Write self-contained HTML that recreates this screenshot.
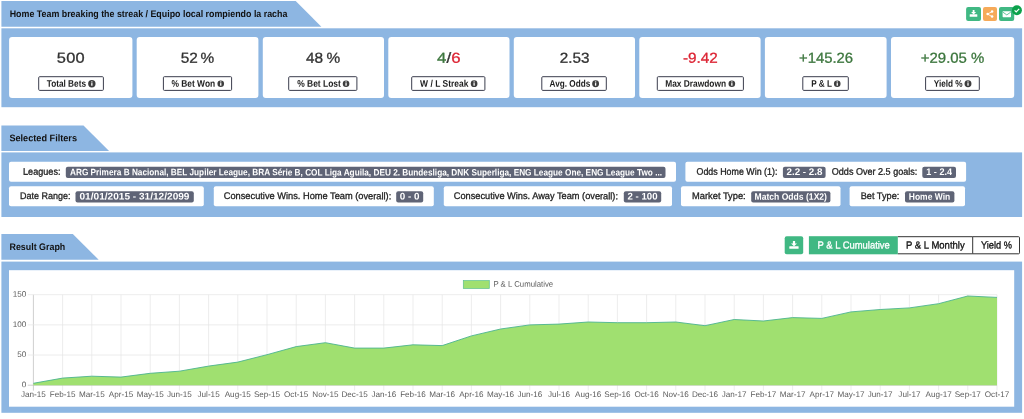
<!DOCTYPE html>
<html lang="en"><head><meta charset="utf-8"><title>Home Team breaking the streak</title>
<style>
html,body{margin:0;padding:0;background:#fff;}
body{width:1024px;height:419px;position:relative;overflow:hidden;font-family:"Liberation Sans",sans-serif;text-rendering:geometricPrecision;}
#bg{position:absolute;left:0;top:0;}
.t{position:absolute;white-space:nowrap;line-height:16px;height:16px;transform-origin:0 50%;}
svg text{font-family:"Liberation Sans",sans-serif;}
</style></head><body>

<svg id="bg" width="1024" height="419" viewBox="0 0 1024 419">
<polygon fill="#8db6e2" points="1.4,1.0 295.7,1.0 321.4,26.7 1.4,26.7"/>
<rect x="1.40" y="28.30" width="1020.70" height="78.90" rx="0" fill="#8db6e2" />
<rect x="9.10" y="37.00" width="123.30" height="61.10" rx="3" fill="#fff" />
<rect x="136.70" y="37.00" width="121.70" height="61.10" rx="3" fill="#fff" />
<rect x="262.80" y="37.00" width="121.20" height="61.10" rx="3" fill="#fff" />
<rect x="388.30" y="37.00" width="121.20" height="61.10" rx="3" fill="#fff" />
<rect x="513.80" y="37.00" width="121.20" height="61.10" rx="3" fill="#fff" />
<rect x="639.30" y="37.00" width="121.30" height="61.10" rx="3" fill="#fff" />
<rect x="764.90" y="37.00" width="121.70" height="61.10" rx="3" fill="#fff" />
<rect x="891.00" y="37.00" width="123.20" height="61.10" rx="3" fill="#fff" />
<rect x="38.70" y="76.70" width="64.70" height="13.70" rx="1" fill="#fff" stroke="#3b3d4d" stroke-width="1"/>
<circle cx="91.85" cy="83.70" r="3.70" fill="#3d3d3d"/>
<rect x="91.20" y="83.10" width="1.3" height="2.6" fill="#fff"/><rect x="91.20" y="81.40" width="1.3" height="1.1" fill="#fff"/>
<rect x="163.40" y="76.70" width="68.20" height="13.70" rx="1" fill="#fff" stroke="#3b3d4d" stroke-width="1"/>
<circle cx="220.75" cy="83.70" r="3.30" fill="#3d3d3d"/>
<rect x="220.10" y="83.10" width="1.3" height="2.6" fill="#fff"/><rect x="220.10" y="81.40" width="1.3" height="1.1" fill="#fff"/>
<rect x="288.70" y="76.70" width="68.20" height="13.70" rx="1" fill="#fff" stroke="#3b3d4d" stroke-width="1"/>
<circle cx="346.05" cy="83.70" r="3.30" fill="#3d3d3d"/>
<rect x="345.40" y="83.10" width="1.3" height="2.6" fill="#fff"/><rect x="345.40" y="81.40" width="1.3" height="1.1" fill="#fff"/>
<rect x="411.70" y="76.70" width="73.20" height="13.70" rx="1" fill="#fff" stroke="#3b3d4d" stroke-width="1"/>
<circle cx="474.10" cy="83.70" r="3.35" fill="#3d3d3d"/>
<rect x="473.45" y="83.10" width="1.3" height="2.6" fill="#fff"/><rect x="473.45" y="81.40" width="1.3" height="1.1" fill="#fff"/>
<rect x="541.80" y="76.70" width="64.50" height="13.70" rx="1" fill="#fff" stroke="#3b3d4d" stroke-width="1"/>
<circle cx="595.60" cy="83.70" r="3.45" fill="#3d3d3d"/>
<rect x="594.95" y="83.10" width="1.3" height="2.6" fill="#fff"/><rect x="594.95" y="81.40" width="1.3" height="1.1" fill="#fff"/>
<rect x="657.30" y="76.70" width="86.10" height="13.70" rx="1" fill="#fff" stroke="#3b3d4d" stroke-width="1"/>
<circle cx="731.85" cy="83.70" r="3.30" fill="#3d3d3d"/>
<rect x="731.20" y="83.10" width="1.3" height="2.6" fill="#fff"/><rect x="731.20" y="81.40" width="1.3" height="1.1" fill="#fff"/>
<rect x="802.80" y="76.70" width="45.50" height="13.70" rx="1" fill="#fff" stroke="#3b3d4d" stroke-width="1"/>
<circle cx="837.25" cy="83.70" r="3.30" fill="#3d3d3d"/>
<rect x="836.60" y="83.10" width="1.3" height="2.6" fill="#fff"/><rect x="836.60" y="81.40" width="1.3" height="1.1" fill="#fff"/>
<rect x="925.60" y="76.70" width="53.70" height="13.70" rx="1" fill="#fff" stroke="#3b3d4d" stroke-width="1"/>
<circle cx="968.00" cy="83.70" r="3.45" fill="#3d3d3d"/>
<rect x="967.35" y="83.10" width="1.3" height="2.6" fill="#fff"/><rect x="967.35" y="81.40" width="1.3" height="1.1" fill="#fff"/>
<rect x="966.10" y="7.00" width="14.90" height="14.00" rx="2" fill="#40b883" />
<rect x="983.00" y="7.00" width="14.00" height="14.00" rx="2" fill="#f6aa59" />
<rect x="999.00" y="7.00" width="15.20" height="14.00" rx="2" fill="#40b883" />
<path d="M972.7 9.9h1.8v2.0h1.6l-2.5 2.5-2.5-2.5h1.6z" fill="#fff"/><rect x="969.7" y="14.2" width="7.6" height="2.6" rx="0.4" fill="#fff"/>
<g fill="#fff" stroke="#fff"><circle cx="987.6" cy="14.1" r="1.25" stroke="none"/><circle cx="992.1" cy="11.6" r="1.25" stroke="none"/><circle cx="992.1" cy="16.6" r="1.25" stroke="none"/><path d="M987.6 14.1L992.1 11.6M987.6 14.1L992.1 16.6" stroke-width="0.8" fill="none"/></g>
<rect x="1002.6" y="11.2" width="8.4" height="6.0" rx="0.6" fill="#fff"/><path d="M1002.8 12.1l4.0 2.8 4.0-2.8" stroke="#40b883" stroke-width="0.8" fill="none"/>
<circle cx="1016.9" cy="10.3" r="5" fill="#0ba24b"/><path d="M1014.6 10.4l1.6 1.6 3-3.2" stroke="#fff" stroke-width="1.2" fill="none"/>
<polygon fill="#8db6e2" points="1.4,125.4 83.5,125.4 109.1,151.0 1.4,151.0"/>
<rect x="1.40" y="152.40" width="1020.70" height="64.60" rx="0" fill="#8db6e2" />
<rect x="9.00" y="161.80" width="667.00" height="20.00" rx="2" fill="#fff" />
<rect x="685.40" y="161.80" width="280.70" height="20.00" rx="2" fill="#fff" />
<rect x="9.00" y="186.20" width="194.80" height="20.10" rx="2" fill="#fff" />
<rect x="213.80" y="186.20" width="220.00" height="20.10" rx="2" fill="#fff" />
<rect x="443.80" y="186.20" width="228.20" height="20.10" rx="2" fill="#fff" />
<rect x="681.00" y="186.20" width="159.50" height="20.10" rx="2" fill="#fff" />
<rect x="849.60" y="186.20" width="115.40" height="20.10" rx="2" fill="#fff" />
<rect x="65.80" y="166.80" width="599.70" height="11.10" rx="2" fill="#5f6476" />
<rect x="782.90" y="166.80" width="42.70" height="11.10" rx="2" fill="#5f6476" />
<rect x="922.30" y="166.80" width="33.70" height="11.10" rx="2" fill="#5f6476" />
<rect x="75.50" y="191.20" width="118.30" height="11.30" rx="2" fill="#5f6476" />
<rect x="396.20" y="191.20" width="27.00" height="11.30" rx="2" fill="#5f6476" />
<rect x="623.80" y="191.20" width="37.40" height="11.30" rx="2" fill="#5f6476" />
<rect x="751.20" y="191.20" width="79.20" height="11.30" rx="2" fill="#5f6476" />
<rect x="905.00" y="191.20" width="49.40" height="11.30" rx="2" fill="#5f6476" />
<polygon fill="#8db6e2" points="1.4,233.9 72.8,233.9 98.7,259.8 1.4,259.8"/>
<rect x="1.40" y="261.60" width="1020.70" height="151.20" rx="0" fill="#8db6e2" />
<rect x="9.00" y="270.20" width="1005.20" height="136.50" rx="0" fill="#fff" />
<rect x="784.70" y="236.20" width="18.50" height="18.10" rx="2" fill="#40b883" />
<path d="M792.9 241.0h2.2v2.4h1.9l-3.0 2.9-3.0-2.9h1.9z" fill="#fff"/><rect x="789.3" y="246.2" width="9.3" height="2.5" rx="0.5" fill="#fff"/>
<rect x="808.9" y="236.2" width="89" height="18.1" fill="#40b883"/>
<rect x="897.9" y="236.2" width="74.8" height="18.1" fill="#fff"/><path d="M897.9 236.7H972.7M897.9 253.8H972.7" stroke="#333" stroke-width="1" fill="none"/>
<path d="M972.7 236.7H1018.5a1 1 0 0 1 1 1V252.8a1 1 0 0 1 -1 1H972.7z" fill="#fff" stroke="#333" stroke-width="1"/>
<line x1="33.40" y1="294.7" x2="33.40" y2="390.6" stroke="#bdbdbd" stroke-width="0.75"/>
<line x1="62.60" y1="294.7" x2="62.60" y2="390.6" stroke="#e7e7e7" stroke-width="0.75"/>
<line x1="91.80" y1="294.7" x2="91.80" y2="390.6" stroke="#e7e7e7" stroke-width="0.75"/>
<line x1="121.00" y1="294.7" x2="121.00" y2="390.6" stroke="#e7e7e7" stroke-width="0.75"/>
<line x1="150.20" y1="294.7" x2="150.20" y2="390.6" stroke="#e7e7e7" stroke-width="0.75"/>
<line x1="179.40" y1="294.7" x2="179.40" y2="390.6" stroke="#e7e7e7" stroke-width="0.75"/>
<line x1="208.60" y1="294.7" x2="208.60" y2="390.6" stroke="#e7e7e7" stroke-width="0.75"/>
<line x1="237.80" y1="294.7" x2="237.80" y2="390.6" stroke="#e7e7e7" stroke-width="0.75"/>
<line x1="267.00" y1="294.7" x2="267.00" y2="390.6" stroke="#e7e7e7" stroke-width="0.75"/>
<line x1="296.20" y1="294.7" x2="296.20" y2="390.6" stroke="#e7e7e7" stroke-width="0.75"/>
<line x1="325.40" y1="294.7" x2="325.40" y2="390.6" stroke="#e7e7e7" stroke-width="0.75"/>
<line x1="354.60" y1="294.7" x2="354.60" y2="390.6" stroke="#e7e7e7" stroke-width="0.75"/>
<line x1="383.80" y1="294.7" x2="383.80" y2="390.6" stroke="#e7e7e7" stroke-width="0.75"/>
<line x1="413.00" y1="294.7" x2="413.00" y2="390.6" stroke="#e7e7e7" stroke-width="0.75"/>
<line x1="442.20" y1="294.7" x2="442.20" y2="390.6" stroke="#e7e7e7" stroke-width="0.75"/>
<line x1="471.40" y1="294.7" x2="471.40" y2="390.6" stroke="#e7e7e7" stroke-width="0.75"/>
<line x1="500.60" y1="294.7" x2="500.60" y2="390.6" stroke="#e7e7e7" stroke-width="0.75"/>
<line x1="529.80" y1="294.7" x2="529.80" y2="390.6" stroke="#e7e7e7" stroke-width="0.75"/>
<line x1="559.00" y1="294.7" x2="559.00" y2="390.6" stroke="#e7e7e7" stroke-width="0.75"/>
<line x1="588.20" y1="294.7" x2="588.20" y2="390.6" stroke="#e7e7e7" stroke-width="0.75"/>
<line x1="617.40" y1="294.7" x2="617.40" y2="390.6" stroke="#e7e7e7" stroke-width="0.75"/>
<line x1="646.60" y1="294.7" x2="646.60" y2="390.6" stroke="#e7e7e7" stroke-width="0.75"/>
<line x1="675.80" y1="294.7" x2="675.80" y2="390.6" stroke="#e7e7e7" stroke-width="0.75"/>
<line x1="705.00" y1="294.7" x2="705.00" y2="390.6" stroke="#e7e7e7" stroke-width="0.75"/>
<line x1="734.20" y1="294.7" x2="734.20" y2="390.6" stroke="#e7e7e7" stroke-width="0.75"/>
<line x1="763.40" y1="294.7" x2="763.40" y2="390.6" stroke="#e7e7e7" stroke-width="0.75"/>
<line x1="792.60" y1="294.7" x2="792.60" y2="390.6" stroke="#e7e7e7" stroke-width="0.75"/>
<line x1="821.80" y1="294.7" x2="821.80" y2="390.6" stroke="#e7e7e7" stroke-width="0.75"/>
<line x1="851.00" y1="294.7" x2="851.00" y2="390.6" stroke="#e7e7e7" stroke-width="0.75"/>
<line x1="880.20" y1="294.7" x2="880.20" y2="390.6" stroke="#e7e7e7" stroke-width="0.75"/>
<line x1="909.40" y1="294.7" x2="909.40" y2="390.6" stroke="#e7e7e7" stroke-width="0.75"/>
<line x1="938.60" y1="294.7" x2="938.60" y2="390.6" stroke="#e7e7e7" stroke-width="0.75"/>
<line x1="967.80" y1="294.7" x2="967.80" y2="390.6" stroke="#e7e7e7" stroke-width="0.75"/>
<line x1="997.00" y1="294.7" x2="997.00" y2="390.6" stroke="#e7e7e7" stroke-width="0.75"/>
<line x1="27.8" y1="385.20" x2="997.0" y2="385.20" stroke="#bdbdbd" stroke-width="0.75"/>
<line x1="27.8" y1="355.03" x2="997.0" y2="355.03" stroke="#e7e7e7" stroke-width="0.75"/>
<line x1="27.8" y1="324.87" x2="997.0" y2="324.87" stroke="#e7e7e7" stroke-width="0.75"/>
<line x1="27.8" y1="294.70" x2="997.0" y2="294.70" stroke="#e7e7e7" stroke-width="0.75"/>
<polygon points="33.4,385.2 33.4,383.3 62.6,378.1 91.8,376.2 121.0,377.1 150.2,373.3 179.4,371.2 208.6,366.1 237.8,362.1 267.0,354.7 296.2,346.6 325.4,342.7 354.6,348.1 383.8,348.1 413.0,344.8 442.2,345.6 471.4,335.9 500.6,329.0 529.8,324.9 559.0,324.1 588.2,322.0 617.4,322.7 646.6,322.7 675.8,322.0 705.0,325.7 734.2,319.5 763.4,321.0 792.6,317.6 821.8,318.4 851.0,311.9 880.2,309.5 909.4,307.9 938.6,303.7 967.8,296.0 997.0,297.4 997.0,385.2" fill="#a0e070"/>
<polyline points="33.4,383.3 62.6,378.1 91.8,376.2 121.0,377.1 150.2,373.3 179.4,371.2 208.6,366.1 237.8,362.1 267.0,354.7 296.2,346.6 325.4,342.7 354.6,348.1 383.8,348.1 413.0,344.8 442.2,345.6 471.4,335.9 500.6,329.0 529.8,324.9 559.0,324.1 588.2,322.0 617.4,322.7 646.6,322.7 675.8,322.0 705.0,325.7 734.2,319.5 763.4,321.0 792.6,317.6 821.8,318.4 851.0,311.9 880.2,309.5 909.4,307.9 938.6,303.7 967.8,296.0 997.0,297.4" fill="none" stroke="#4bb38f" stroke-width="0.9"/>
<rect x="463.3" y="280.6" width="26" height="7.9" fill="#a0e070" stroke="#5cc08f" stroke-width="0.7"/>
<text x="493.4" y="286.7" font-size="8.2" fill="#5c5c5c" textLength="59.8" lengthAdjust="spacingAndGlyphs" transform="rotate(0.03 493.4 286.7)">P &amp; L Cumulative</text>
<text x="26.2" y="387.3" font-size="8.15" fill="#5c5c5c" text-anchor="end" transform="rotate(0.03 26.2 387.3)">0</text>
<text x="26.2" y="357.1" font-size="8.15" fill="#5c5c5c" text-anchor="end" transform="rotate(0.03 26.2 357.1)">50</text>
<text x="26.2" y="327.0" font-size="8.15" fill="#5c5c5c" text-anchor="end" transform="rotate(0.03 26.2 327.0)">100</text>
<text x="26.2" y="296.8" font-size="8.15" fill="#5c5c5c" text-anchor="end" transform="rotate(0.03 26.2 296.8)">150</text>
<text x="33.4" y="397.1" font-size="8.15" fill="#5c5c5c" text-anchor="middle" transform="rotate(0.03 33.4 397.1)">Jan-15</text>
<text x="62.6" y="397.1" font-size="8.15" fill="#5c5c5c" text-anchor="middle" transform="rotate(0.03 62.6 397.1)">Feb-15</text>
<text x="91.8" y="397.1" font-size="8.15" fill="#5c5c5c" text-anchor="middle" transform="rotate(0.03 91.8 397.1)">Mar-15</text>
<text x="121.0" y="397.1" font-size="8.15" fill="#5c5c5c" text-anchor="middle" transform="rotate(0.03 121.0 397.1)">Apr-15</text>
<text x="150.2" y="397.1" font-size="8.15" fill="#5c5c5c" text-anchor="middle" transform="rotate(0.03 150.2 397.1)">May-15</text>
<text x="179.4" y="397.1" font-size="8.15" fill="#5c5c5c" text-anchor="middle" transform="rotate(0.03 179.4 397.1)">Jun-15</text>
<text x="208.6" y="397.1" font-size="8.15" fill="#5c5c5c" text-anchor="middle" transform="rotate(0.03 208.6 397.1)">Jul-15</text>
<text x="237.8" y="397.1" font-size="8.15" fill="#5c5c5c" text-anchor="middle" transform="rotate(0.03 237.8 397.1)">Aug-15</text>
<text x="267.0" y="397.1" font-size="8.15" fill="#5c5c5c" text-anchor="middle" transform="rotate(0.03 267.0 397.1)">Sep-15</text>
<text x="296.2" y="397.1" font-size="8.15" fill="#5c5c5c" text-anchor="middle" transform="rotate(0.03 296.2 397.1)">Oct-15</text>
<text x="325.4" y="397.1" font-size="8.15" fill="#5c5c5c" text-anchor="middle" transform="rotate(0.03 325.4 397.1)">Nov-15</text>
<text x="354.6" y="397.1" font-size="8.15" fill="#5c5c5c" text-anchor="middle" transform="rotate(0.03 354.6 397.1)">Dec-15</text>
<text x="383.8" y="397.1" font-size="8.15" fill="#5c5c5c" text-anchor="middle" transform="rotate(0.03 383.8 397.1)">Jan-16</text>
<text x="413.0" y="397.1" font-size="8.15" fill="#5c5c5c" text-anchor="middle" transform="rotate(0.03 413.0 397.1)">Feb-16</text>
<text x="442.2" y="397.1" font-size="8.15" fill="#5c5c5c" text-anchor="middle" transform="rotate(0.03 442.2 397.1)">Mar-16</text>
<text x="471.4" y="397.1" font-size="8.15" fill="#5c5c5c" text-anchor="middle" transform="rotate(0.03 471.4 397.1)">Apr-16</text>
<text x="500.6" y="397.1" font-size="8.15" fill="#5c5c5c" text-anchor="middle" transform="rotate(0.03 500.6 397.1)">May-16</text>
<text x="529.8" y="397.1" font-size="8.15" fill="#5c5c5c" text-anchor="middle" transform="rotate(0.03 529.8 397.1)">Jun-16</text>
<text x="559.0" y="397.1" font-size="8.15" fill="#5c5c5c" text-anchor="middle" transform="rotate(0.03 559.0 397.1)">Jul-16</text>
<text x="588.2" y="397.1" font-size="8.15" fill="#5c5c5c" text-anchor="middle" transform="rotate(0.03 588.2 397.1)">Aug-16</text>
<text x="617.4" y="397.1" font-size="8.15" fill="#5c5c5c" text-anchor="middle" transform="rotate(0.03 617.4 397.1)">Sep-16</text>
<text x="646.6" y="397.1" font-size="8.15" fill="#5c5c5c" text-anchor="middle" transform="rotate(0.03 646.6 397.1)">Oct-16</text>
<text x="675.8" y="397.1" font-size="8.15" fill="#5c5c5c" text-anchor="middle" transform="rotate(0.03 675.8 397.1)">Nov-16</text>
<text x="705.0" y="397.1" font-size="8.15" fill="#5c5c5c" text-anchor="middle" transform="rotate(0.03 705.0 397.1)">Dec-16</text>
<text x="734.2" y="397.1" font-size="8.15" fill="#5c5c5c" text-anchor="middle" transform="rotate(0.03 734.2 397.1)">Jan-17</text>
<text x="763.4" y="397.1" font-size="8.15" fill="#5c5c5c" text-anchor="middle" transform="rotate(0.03 763.4 397.1)">Feb-17</text>
<text x="792.6" y="397.1" font-size="8.15" fill="#5c5c5c" text-anchor="middle" transform="rotate(0.03 792.6 397.1)">Mar-17</text>
<text x="821.8" y="397.1" font-size="8.15" fill="#5c5c5c" text-anchor="middle" transform="rotate(0.03 821.8 397.1)">Apr-17</text>
<text x="851.0" y="397.1" font-size="8.15" fill="#5c5c5c" text-anchor="middle" transform="rotate(0.03 851.0 397.1)">May-17</text>
<text x="880.2" y="397.1" font-size="8.15" fill="#5c5c5c" text-anchor="middle" transform="rotate(0.03 880.2 397.1)">Jun-17</text>
<text x="909.4" y="397.1" font-size="8.15" fill="#5c5c5c" text-anchor="middle" transform="rotate(0.03 909.4 397.1)">Jul-17</text>
<text x="938.6" y="397.1" font-size="8.15" fill="#5c5c5c" text-anchor="middle" transform="rotate(0.03 938.6 397.1)">Aug-17</text>
<text x="967.8" y="397.1" font-size="8.15" fill="#5c5c5c" text-anchor="middle" transform="rotate(0.03 967.8 397.1)">Sep-17</text>
<text x="997.0" y="397.1" font-size="8.15" fill="#5c5c5c" text-anchor="middle" transform="rotate(0.03 997.0 397.1)">Oct-17</text>
</svg>
<div class="t" id="t0" style="left:9px;top:6px;font-size:9.6px;font-weight:700;color:#111;transform:translate(0.70px,0.95px) scaleX(0.9241) rotate(0.03deg);">Home Team breaking the streak / Equipo local rompiendo la racha</div>
<div class="t" id="t1" style="left:9px;top:131px;font-size:9.6px;font-weight:700;color:#111;transform:translate(0.40px,0.25px) scaleX(0.9531) rotate(0.03deg);">Selected Filters</div>
<div class="t" id="t2" style="left:9px;top:240px;font-size:9.6px;font-weight:700;color:#111;transform:translate(0.50px,0.05px) scaleX(0.9261) rotate(0.03deg);">Result Graph</div>
<div class="t" id="t3" style="left:56px;top:50px;font-size:14.5px;font-weight:400;color:#333;transform:translate(0.70px,0.70px) scaleX(1.1300) rotate(0.03deg);letter-spacing:0.284px;-webkit-text-stroke:0.3px;">500</div>
<div class="t" id="t4" style="left:180px;top:50px;font-size:14.5px;font-weight:400;color:#333;transform:translate(0.70px,0.70px) scaleX(1.0600) rotate(0.03deg);word-spacing:-1.37px;-webkit-text-stroke:0.3px;">52 %</div>
<div class="t" id="t5" style="left:305px;top:50px;font-size:14.5px;font-weight:400;color:#333;transform:translate(0.90px,0.70px) scaleX(1.0600) rotate(0.03deg);word-spacing:-0.81px;-webkit-text-stroke:0.3px;">48 %</div>
<div class="t" id="t6" style="left:437px;top:50px;font-size:14.5px;font-weight:400;color:#333;transform:translate(0.10px,0.70px) scaleX(1.1587) rotate(0.03deg);-webkit-text-stroke:0.3px;"><span style="color:#3c763d">4</span>/<span style="color:#dc2333">6</span></div>
<div class="t" id="t7" style="left:559px;top:50px;font-size:14.5px;font-weight:400;color:#333;transform:translate(0.80px,0.70px) scaleX(1.0516) rotate(0.03deg);-webkit-text-stroke:0.3px;">2.53</div>
<div class="t" id="t8" style="left:683px;top:50px;font-size:14.5px;font-weight:400;color:#dc2333;transform:translate(0.00px,0.70px) scaleX(1.0523) rotate(0.03deg);-webkit-text-stroke:0.3px;">-9.42</div>
<div class="t" id="t9" style="left:799px;top:50px;font-size:14.5px;font-weight:400;color:#3c763d;transform:translate(0.00px,0.70px) scaleX(1.0239) rotate(0.03deg);-webkit-text-stroke:0.3px;">+145.26</div>
<div class="t" id="t10" style="left:920px;top:50px;font-size:14.5px;font-weight:400;color:#3c763d;transform:translate(0.80px,0.70px) scaleX(1.0300) rotate(0.03deg);word-spacing:-0.14px;-webkit-text-stroke:0.3px;">+29.05 %</div>
<div class="t" id="t11" style="left:46px;top:76px;font-size:9.6px;font-weight:700;color:#1c1c1c;transform:translate(0.70px,0.75px) scaleX(0.8604) rotate(0.03deg);">Total Bets</div>
<div class="t" id="t12" style="left:171px;top:76px;font-size:9.6px;font-weight:700;color:#1c1c1c;transform:translate(0.40px,0.75px) scaleX(0.8770) rotate(0.03deg);">% Bet Won</div>
<div class="t" id="t13" style="left:297px;top:76px;font-size:9.6px;font-weight:700;color:#1c1c1c;transform:translate(0.20px,0.75px) scaleX(0.8813) rotate(0.03deg);">% Bet Lost</div>
<div class="t" id="t14" style="left:420px;top:76px;font-size:9.6px;font-weight:700;color:#1c1c1c;transform:translate(0.10px,0.75px) scaleX(0.8821) rotate(0.03deg);">W / L Streak</div>
<div class="t" id="t15" style="left:549px;top:76px;font-size:9.6px;font-weight:700;color:#1c1c1c;transform:translate(0.60px,0.75px) scaleX(0.8545) rotate(0.03deg);">Avg. Odds</div>
<div class="t" id="t16" style="left:665px;top:76px;font-size:9.6px;font-weight:700;color:#1c1c1c;transform:translate(0.20px,0.75px) scaleX(0.8719) rotate(0.03deg);">Max Drawdown</div>
<div class="t" id="t17" style="left:811px;top:76px;font-size:9.6px;font-weight:700;color:#1c1c1c;transform:translate(0.20px,0.75px) scaleX(0.8537) rotate(0.03deg);">P &amp; L</div>
<div class="t" id="t18" style="left:933px;top:76px;font-size:9.6px;font-weight:700;color:#1c1c1c;transform:translate(0.70px,0.75px) scaleX(0.8587) rotate(0.03deg);">Yield %</div>
<div class="t" id="t19" style="left:23px;top:164px;font-size:9.6px;font-weight:400;color:#1e1e1e;transform:translate(0.00px,0.65px) scaleX(0.9496) rotate(0.03deg);-webkit-text-stroke:0.3px;">Leagues:</div>
<div class="t" id="t20" style="left:696px;top:164px;font-size:9.6px;font-weight:400;color:#1e1e1e;transform:translate(0.50px,0.65px) scaleX(0.9252) rotate(0.03deg);-webkit-text-stroke:0.3px;">Odds Home Win (1):</div>
<div class="t" id="t21" style="left:831px;top:164px;font-size:9.6px;font-weight:400;color:#1e1e1e;transform:translate(0.80px,0.65px) scaleX(0.9431) rotate(0.03deg);-webkit-text-stroke:0.3px;">Odds Over 2.5 goals:</div>
<div class="t" id="t22" style="left:20px;top:189px;font-size:9.6px;font-weight:400;color:#1e1e1e;transform:translate(0.00px,0.05px) scaleX(0.9373) rotate(0.03deg);-webkit-text-stroke:0.3px;">Date Range:</div>
<div class="t" id="t23" style="left:223px;top:189px;font-size:9.6px;font-weight:400;color:#1e1e1e;transform:translate(0.75px,0.05px) scaleX(0.9646) rotate(0.03deg);-webkit-text-stroke:0.3px;">Consecutive Wins. Home Team (overall):</div>
<div class="t" id="t24" style="left:453px;top:189px;font-size:9.6px;font-weight:400;color:#1e1e1e;transform:translate(0.75px,0.05px) scaleX(0.9615) rotate(0.03deg);-webkit-text-stroke:0.3px;">Consecutive Wins. Away Team (overall):</div>
<div class="t" id="t25" style="left:692px;top:189px;font-size:9.6px;font-weight:400;color:#1e1e1e;transform:translate(0.00px,0.05px) scaleX(0.9713) rotate(0.03deg);-webkit-text-stroke:0.3px;">Market Type:</div>
<div class="t" id="t26" style="left:860px;top:189px;font-size:9.6px;font-weight:400;color:#1e1e1e;transform:translate(0.70px,0.05px) scaleX(0.9563) rotate(0.03deg);-webkit-text-stroke:0.3px;">Bet Type:</div>
<div class="t" id="t27" style="left:70px;top:164px;font-size:9.3px;font-weight:700;color:#fff;transform:translate(0.00px,0.25px) scaleX(0.8872) rotate(0.03deg);">ARG Primera B Nacional, BEL Jupiler League, BRA Série B, COL Liga Aguila, DEU 2. Bundesliga, DNK Superliga, ENG League One, ENG League Two ...</div>
<div class="t" id="t28" style="left:786px;top:165px;font-size:9.6px;font-weight:700;color:#fff;transform:translate(0.50px,0.05px) scaleX(1.0225) rotate(0.03deg);">2.2 - 2.8</div>
<div class="t" id="t29" style="left:926px;top:165px;font-size:9.6px;font-weight:700;color:#fff;transform:translate(0.30px,0.05px) scaleX(0.9445) rotate(0.03deg);">1 - 2.4</div>
<div class="t" id="t30" style="left:79px;top:189px;font-size:9.6px;font-weight:700;color:#fff;transform:translate(0.50px,0.45px) scaleX(1.0519) rotate(0.03deg);">01/01/2015 - 31/12/2099</div>
<div class="t" id="t31" style="left:399px;top:189px;font-size:9.6px;font-weight:700;color:#fff;transform:translate(0.70px,0.45px) scaleX(1.0256) rotate(0.03deg);">0 - 0</div>
<div class="t" id="t32" style="left:627px;top:189px;font-size:9.6px;font-weight:700;color:#fff;transform:translate(0.50px,0.45px) scaleX(1.0040) rotate(0.03deg);">2 - 100</div>
<div class="t" id="t33" style="left:754px;top:188px;font-size:9.3px;font-weight:700;color:#fff;transform:translate(0.50px,0.68px) scaleX(0.9231) rotate(0.03deg);">Match Odds (1X2)</div>
<div class="t" id="t34" style="left:908px;top:188px;font-size:9.3px;font-weight:700;color:#fff;transform:translate(0.80px,0.68px) scaleX(0.9123) rotate(0.03deg);">Home Win</div>
<div class="t" id="t35" style="left:817px;top:238px;font-size:10.2px;font-weight:400;color:#fff;transform:translate(0.60px,0.45px) scaleX(0.9237) rotate(0.03deg);-webkit-text-stroke:0.3px;">P &amp; L Cumulative</div>
<div class="t" id="t36" style="left:906px;top:238px;font-size:10.2px;font-weight:400;color:#111;transform:translate(0.00px,0.45px) scaleX(0.9337) rotate(0.03deg);-webkit-text-stroke:0.3px;">P &amp; L Monthly</div>
<div class="t" id="t37" style="left:980px;top:238px;font-size:10.2px;font-weight:400;color:#111;transform:translate(0.90px,0.45px) scaleX(0.9070) rotate(0.03deg);-webkit-text-stroke:0.3px;">Yield %</div>
</body></html>
